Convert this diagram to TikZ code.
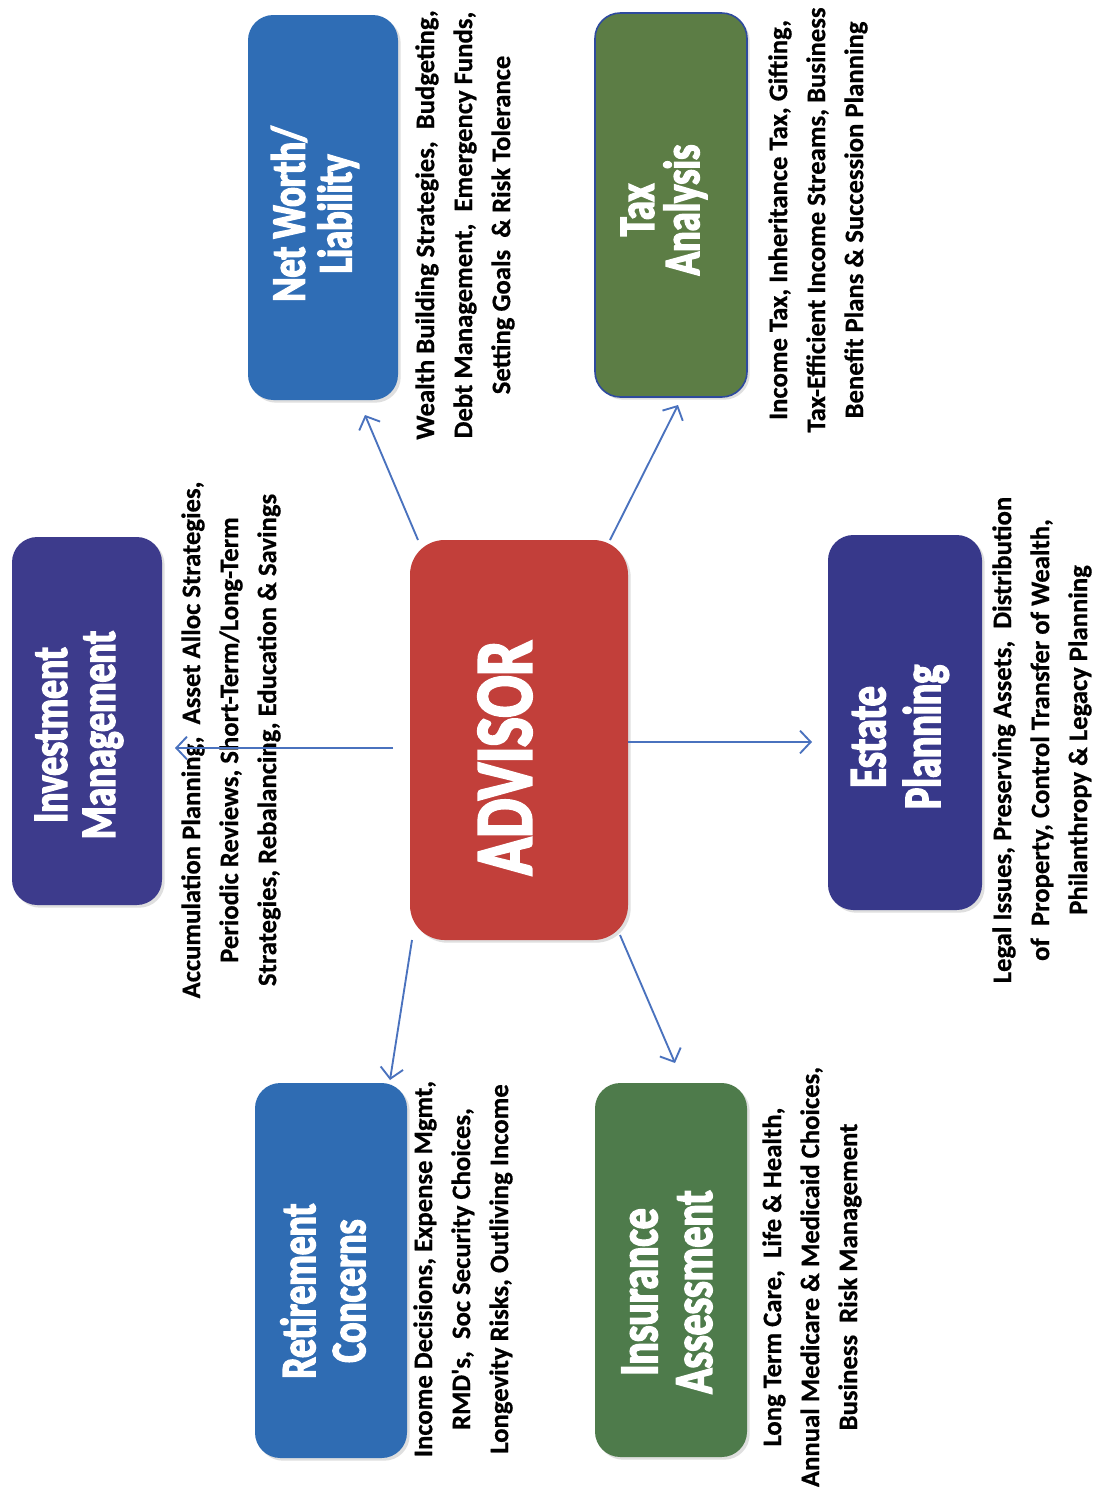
\documentclass[tikz,border=0pt]{standalone}
\usepackage{fontspec}
\setmainfont{Carlito}
\newfontfamily\titlefont[FakeStretch=0.76,FakeBold=3]{Carlito Bold}
\newfontfamily\descfont[FakeBold=0.6]{Carlito Bold}
\usetikzlibrary{arrows.meta,calc,shadows}
\definecolor{cInv}{HTML}{3D3B8C}
\definecolor{cNw}{HTML}{2F6DB5}
\definecolor{cTax}{HTML}{5C7D45}
\definecolor{cTaxB}{HTML}{2E4A9E}
\definecolor{cAdv}{HTML}{C23F3A}
\definecolor{cEst}{HTML}{37388A}
\definecolor{cRet}{HTML}{2F6CB3}
\definecolor{cIns}{HTML}{4E7B4B}
\definecolor{cArr}{HTML}{4A72BE}
\tikzset{
  box/.style={rectangle, rounded corners=19pt, inner sep=0pt, outer sep=0pt,
    drop shadow={shadow xshift=2pt, shadow yshift=-2pt, opacity=0.25}},
  ttl/.style={rotate=90, align=center, text=white, inner sep=0pt},
  desc/.style={rotate=90, align=center, text=black, inner sep=0pt,
    font=\descfont\fontsize{20}{28.5}\selectfont},
  arr/.style={draw=cArr, line width=1.4pt, -{Straight Barb[length=8pt,width=17pt,line width=1.4pt]}}
}
\begin{document}
\begin{tikzpicture}[x=0.75pt,y=-0.75pt]
\useasboundingbox[fill=white] (0,0) rectangle (1110,1492);
% boxes
\node[box, fill=cInv, minimum width=112.5pt, minimum height=276pt] (inv) at (87,721) {};
\node[box, fill=cNw, minimum width=112.5pt, minimum height=288.75pt] (nw) at (323,207.5) {};
\node[box, fill=cTax, draw=cTaxB, line width=1.2pt, minimum width=114pt, minimum height=288pt] (tax) at (671,205) {};
\node[box, fill=cAdv, rounded corners=26pt, minimum width=163.5pt, minimum height=300pt] (adv) at (519,740) {};
\node[box, fill=cEst, minimum width=115.5pt, minimum height=281.25pt] (est) at (905,722.5) {};
\node[box, fill=cRet, minimum width=114pt, minimum height=281.25pt] (ret) at (331,1270.5) {};
\node[box, fill=cIns, minimum width=114pt, minimum height=280.5pt] (ins) at (671,1270) {};
% titles
\node[ttl, font=\titlefont\fontsize{37}{36}\selectfont] (invT) at (79,735) {Investment\\Management};
\node[ttl, font=\titlefont\fontsize{36}{35}\selectfont] (nwT) at (315,214) {Net Worth/\\Liability};
\node[ttl, font=\titlefont\fontsize{38}{34}\selectfont] (taxT) at (664,210) {Tax\\Analysis};
\node[ttl, font=\titlefont\fontsize{61}{60}\selectfont] (advT) at (505,758) {ADVISOR};
\node[ttl, font=\titlefont\fontsize{39.5}{41}\selectfont] (estT) at (900,737) {Estate\\Planning};
\node[ttl, font=\titlefont\fontsize{37}{37.5}\selectfont] (retT) at (323,1291) {Retirement\\Concerns};
\node[ttl, font=\titlefont\fontsize{41}{41}\selectfont] (insT) at (667,1292) {Insurance\\Assessment};
% descriptions
\node[desc] (invD) at (231,740) {Accumulation Planning,\ \ Asset Alloc Strategies,\\Periodic Reviews, Short-Term/Long-Term\\Strategies, Rebalancing, Education \& Savings};
\node[desc] (nwD) at (465,225) {Wealth Building Strategies,\ \ Budgeting,\\Debt Management,\ \ Emergency Funds,\\Setting Goals\ \ \& Risk Tolerance};
\node[desc] (taxD) at (818,220) {Income Tax, Inheritance Tax, Gifting,\\Tax-Efficient Income Streams, Business\\Benefit Plans \& Succession Planning};
\node[desc] (estD) at (1042,740) {Legal Issues, Preserving Assets,\ \ Distribution\\of\ \ Property, Control Transfer of Wealth,\\Philanthropy \& Legacy Planning};
\node[desc] (retD) at (463,1269) {Income Decisions, Expense Mgmt,\\RMD's,\ \ Soc Security Choices,\\Longevity Risks, Outliving Income};
\node[desc] (insD) at (812,1277) {Long Term Care,\ \ Life \& Health,\\Annual Medicare \& Medicaid Choices,\\Business\ \ Risk Management};
% connectors
\draw[arr] ($(adv.west)+(-17,8)$) -- ($(inv.east)+(13,27)$);
\draw[arr] ($(adv.east)+(0,2)$) -- ($(est.west)+(-16,19.5)$);
\draw[arr] ($(adv.north west)+(8,0)$) -- ($(nw.south)+(42,15)$);
\draw[arr] ($(adv.north east)+(-18,0)$) -- ($(tax.south)+(7,8)$);
\draw[arr] ($(adv.south west)+(2,0)$) -- ($(ret.north)+(59,-3)$);
\draw[arr] ($(adv.south east)+(-8,-5)$) -- ($(ins.north)+(4,-20)$);
\end{tikzpicture}
\end{document}
